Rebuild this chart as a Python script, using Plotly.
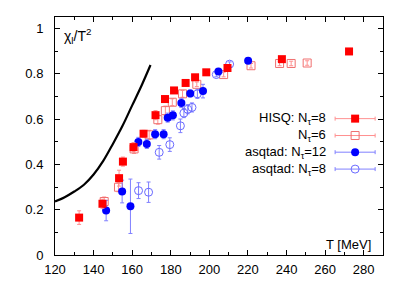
import plotly.graph_objects as go

# HISQ Nt=8 (filled red squares)
hisq8_T = [132.5, 144.6, 153.2, 155.2, 160.7, 165.9, 172.1, 177.0, 181.7, 187.7, 192.6, 198.4, 209.4, 237.6, 272.4]
hisq8_y = [0.165, 0.226, 0.339, 0.412, 0.476, 0.535, 0.617, 0.688, 0.726, 0.759, 0.784, 0.806, 0.825, 0.864, 0.898]
hisq8_e = [0.03, 0.02, 0.035, 0.02, 0.02, 0.015, 0.02, 0.015, 0.01, 0.01, 0.01, 0.01, 0.01, 0.01, 0.01]

# HISQ Nt=6 (open red squares)
hisq6_T = [145.5, 152.9, 161.0, 168.8, 173.3, 177.2, 180.8, 186.1, 193.5, 207.4, 221.6, 236.4, 242.4, 250.7]
hisq6_y = [0.236, 0.299, 0.468, 0.530, 0.597, 0.637, 0.674, 0.711, 0.753, 0.796, 0.835, 0.845, 0.845, 0.847]
hisq6_e = [0.02, 0.02, 0.02, 0.02, 0.02, 0.02, 0.015, 0.015, 0.01, 0.01, 0.01, 0.01, 0.01, 0.01]

# asqtad Nt=12 (filled blue circles)
asq12_T = [146.5, 154.8, 159.1, 163.2, 167.6, 171.9, 176.3, 178.4, 181.1, 185.5, 190.1, 196.7, 204.7, 220.1]
asq12_y = [0.196, 0.280, 0.215, 0.499, 0.490, 0.533, 0.533, 0.606, 0.616, 0.671, 0.713, 0.723, 0.810, 0.857]
asq12_e = [0.045, 0.05, 0.12, 0.02, 0.02, 0.02, 0.02, 0.02, 0.02, 0.02, 0.015, 0.03, 0.01, 0.01]

# asqtad Nt=8 (open blue circles)
asq8_T = [163.3, 168.5, 174.0, 179.5, 185.0, 186.8, 188.8, 191.0, 193.8, 203.6, 210.5]
asq8_y = [0.284, 0.277, 0.453, 0.487, 0.570, 0.626, 0.643, 0.651, 0.711, 0.796, 0.842]
asq8_e = [0.035, 0.045, 0.03, 0.03, 0.03, 0.02, 0.02, 0.02, 0.02, 0.01, 0.01]

# black curve (HRG)
hrg_T = [120, 125, 130, 135, 140, 145, 150, 155, 160, 165, 169.5]
hrg_y = [0.236, 0.255, 0.280, 0.310, 0.355, 0.415, 0.490, 0.570, 0.660, 0.750, 0.838]

legend_labels = ["HISQ: N<sub>τ</sub>=8", "N<sub>τ</sub>=6", "asqtad: N<sub>τ</sub>=12", "asqtad: N<sub>τ</sub>=8"]

RED = "#ff0000"
RED_L = "#f07070"
RED_E = "#ff9090"
BLUE = "#0000ff"
BLUE_L = "#6a6aff"
BLUE_E = "#8080ff"

series = [
    (hisq6_T, hisq6_y, hisq6_e, dict(symbol="square-open", size=8, color=RED_L, line=dict(width=1, color=RED_L)), RED_E),
    (asq8_T, asq8_y, asq8_e, dict(symbol="circle-open", size=8, color=BLUE_L, line=dict(width=1, color=BLUE_L)), BLUE_E),
    (asq12_T, asq12_y, asq12_e, dict(symbol="circle", size=8, color=BLUE), BLUE_E),
    (hisq8_T, hisq8_y, hisq8_e, dict(symbol="square", size=8, color=RED), RED_E),
]
legend_styles = [series[3], series[0], series[2], series[1]]

fig = go.Figure()
fig.add_trace(go.Scatter(x=hrg_T, y=hrg_y, mode="lines", line=dict(color="black", width=2.2, shape="spline"),
                         showlegend=False, hoverinfo="skip"))
for T, y, e, mk, ec in series:
    fig.add_trace(go.Scatter(x=T, y=y, mode="markers", marker=mk,
                             error_y=dict(type="data", array=e, color=ec, thickness=1, width=2),
                             showlegend=False))

# manual legend (text left of symbol, like gnuplot)
leg_y = [0.573, 0.502, 0.432, 0.361]
for lab, ly, st in zip(legend_labels, leg_y, legend_styles):
    fig.add_annotation(xref="paper", yref="paper", x=0.832, y=ly, text=lab, showarrow=False,
                       xanchor="right", yanchor="middle", font=dict(size=13, color="black"))
    fig.add_trace(go.Scatter(x=[0.915], y=[ly], xaxis="x2", yaxis="y2", mode="markers", marker=st[3],
                             error_x=dict(type="constant", value=0.061, color=st[4], thickness=1, width=2),
                             showlegend=False, hoverinfo="skip"))

fig.add_annotation(xref="paper", yref="paper", x=0.022, y=0.92, text="χ<sub>l</sub>/T<sup>2</sup>",
                   showarrow=False, xanchor="left", yanchor="middle", font=dict(size=14, color="black"))
fig.add_annotation(xref="paper", yref="paper", x=0.97, y=0.045, text="T [MeV]",
                   showarrow=False, xanchor="right", yanchor="middle", font=dict(size=13, color="black"))

axis_common = dict(showgrid=False, zeroline=False, showline=True, linecolor="black", linewidth=1,
                   mirror="allticks", ticks="inside", ticklen=5, tickcolor="black",
                   tickfont=dict(size=13, color="black"))
# page body has an 8px default margin, so the figure is sized to fit the window from (8, 8)
fig.update_layout(
    width=399, height=277,
    margin=dict(l=47, r=24, t=8, b=28),
    paper_bgcolor="white", plot_bgcolor="white",
    font=dict(family="Liberation Sans, Arial, sans-serif", size=13, color="black"),
    xaxis=dict(range=[120, 290], tickvals=[120, 140, 160, 180, 200, 220, 240, 260, 280], ticklabelstandoff=2,
               minor=dict(ticks="inside", dtick=10, tick0=120, ticklen=3, tickcolor="black"), **axis_common),
    yaxis=dict(range=[0, 1.05], tickvals=[0, 0.2, 0.4, 0.6, 0.8, 1], ticktext=["0", "0.2", "0.4", "0.6", "0.8", "1"],
               ticklabelstandoff=8,
               minor=dict(ticks="inside", dtick=0.1, tick0=0, ticklen=3, tickcolor="black"), **axis_common),
    xaxis2=dict(range=[0, 1], overlaying="x", visible=False, fixedrange=True),
    yaxis2=dict(range=[0, 1], overlaying="y", visible=False, fixedrange=True),
)

fig.write_html("out.html")
